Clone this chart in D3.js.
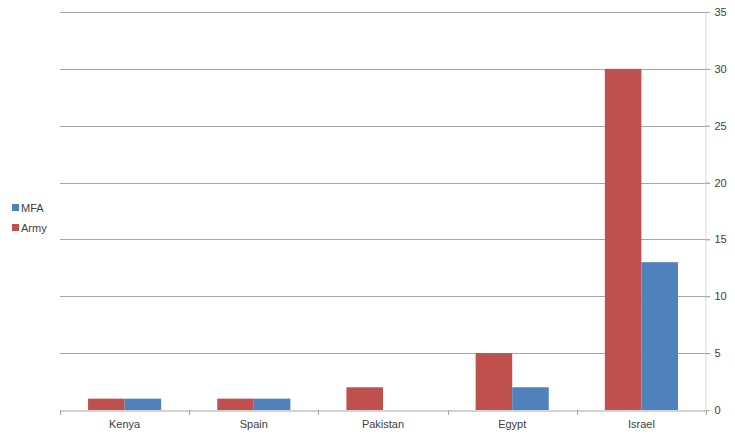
<!DOCTYPE html>
<html>
<head>
<meta charset="utf-8">
<script src="https://cdn.jsdelivr.net/npm/d3@7"></script>
<style>
  body { margin: 0; background: #fff; }
  text { font-family: "Liberation Sans", Arial, sans-serif; font-size: 11px; fill: #404040; }
</style>
</head>
<body>
<div id="chart"></div>
<script>
const countries = ['Kenya', 'Spain', 'Pakistan', 'Egypt', 'Israel'];
const army = [1, 1, 2, 5, 30];
const mfa = [1, 1, 0, 2, 13];
const seriesNames = ['Army', 'MFA'];
const seriesColors = ['#C0504D', '#4F81BD'];
const yTicks = [0, 5, 10, 15, 20, 25, 30, 35];

const W = 735, H = 437;
const margin = {top: 12, right: 29, bottom: 27, left: 60};
const width = W - margin.left - margin.right;
const height = H - margin.top - margin.bottom;

const svg = d3.select('#chart').append('svg')
  .attr('width', W).attr('height', H);
const g = svg.append('g')
  .attr('transform', 'translate(' + margin.left + ',' + margin.top + ')');

const x0 = d3.scaleBand().domain(countries).range([0, width]).padding(0);
const gap = x0.bandwidth() * 0.217;
const x1 = d3.scaleBand().domain(seriesNames).range([gap, x0.bandwidth() - gap]).padding(0);
const y = d3.scaleLinear().domain([0, 35]).range([height, 0]);

// gridlines
g.selectAll('line.grid')
  .data(yTicks.filter(d => d > 0))
  .enter().append('line')
  .attr('x1', 0).attr('x2', width + 4)
  .attr('y1', d => Math.round(y(d)) + 0.5).attr('y2', d => Math.round(y(d)) + 0.5)
  .attr('stroke', '#a6a6a6');

const rows = countries.map((c, i) => ({country: c, values: [army[i], mfa[i]]}));

const groups = g.selectAll('g.cat')
  .data(rows)
  .enter().append('g')
  .attr('transform', d => 'translate(' + x0(d.country) + ',0)');

groups.selectAll('rect')
  .data(d => d.values.map((v, k) => ({key: seriesNames[k], value: v, color: seriesColors[k]})))
  .enter().append('rect')
  .attr('x', d => x1(d.key))
  .attr('width', x1.bandwidth())
  .attr('y', d => y(d.value))
  .attr('height', d => height - y(d.value))
  .attr('fill', d => d.color);

// bottom axis
const xAxis = g.append('g')
  .attr('transform', 'translate(0,' + (Math.round(height) + 0.5) + ')')
  .call(d3.axisBottom(x0).tickSize(0).tickPadding(10));
xAxis.select('.domain').attr('stroke', '#a6a6a6');
xAxis.selectAll('text').attr('fill', '#404040').style('font-size', '11px');
g.selectAll('line.xtick')
  .data(d3.range(countries.length + 1))
  .enter().append('line')
  .attr('x1', i => Math.round(i * x0.bandwidth()) + 0.5)
  .attr('x2', i => Math.round(i * x0.bandwidth()) + 0.5)
  .attr('y1', height).attr('y2', height + 5)
  .attr('stroke', '#a6a6a6');

// right axis
const yAxis = g.append('g')
  .attr('transform', 'translate(' + (Math.round(width) - 0.5) + ',0)')
  .call(d3.axisRight(y).tickValues(yTicks).tickSize(4).tickPadding(5));
yAxis.select('.domain').attr('stroke', '#d9d9d9');
yAxis.selectAll('.tick line').attr('stroke', '#a6a6a6');
yAxis.selectAll('text').attr('fill', '#404040').style('font-size', '11px');

// legend
const legendNames = ['MFA', 'Army'];
const legendColors = ['#4F81BD', '#C0504D'];
const legend = svg.append('g').attr('transform', 'translate(12,204)');
legendNames.forEach((n, i) => {
  const row = legend.append('g').attr('transform', 'translate(0,' + (i * 20) + ')');
  row.append('rect').attr('width', 7).attr('height', 7).attr('fill', legendColors[i]);
  row.append('text').attr('x', 9).attr('y', 7.5).text(n);
});
</script>
</body>
</html>
